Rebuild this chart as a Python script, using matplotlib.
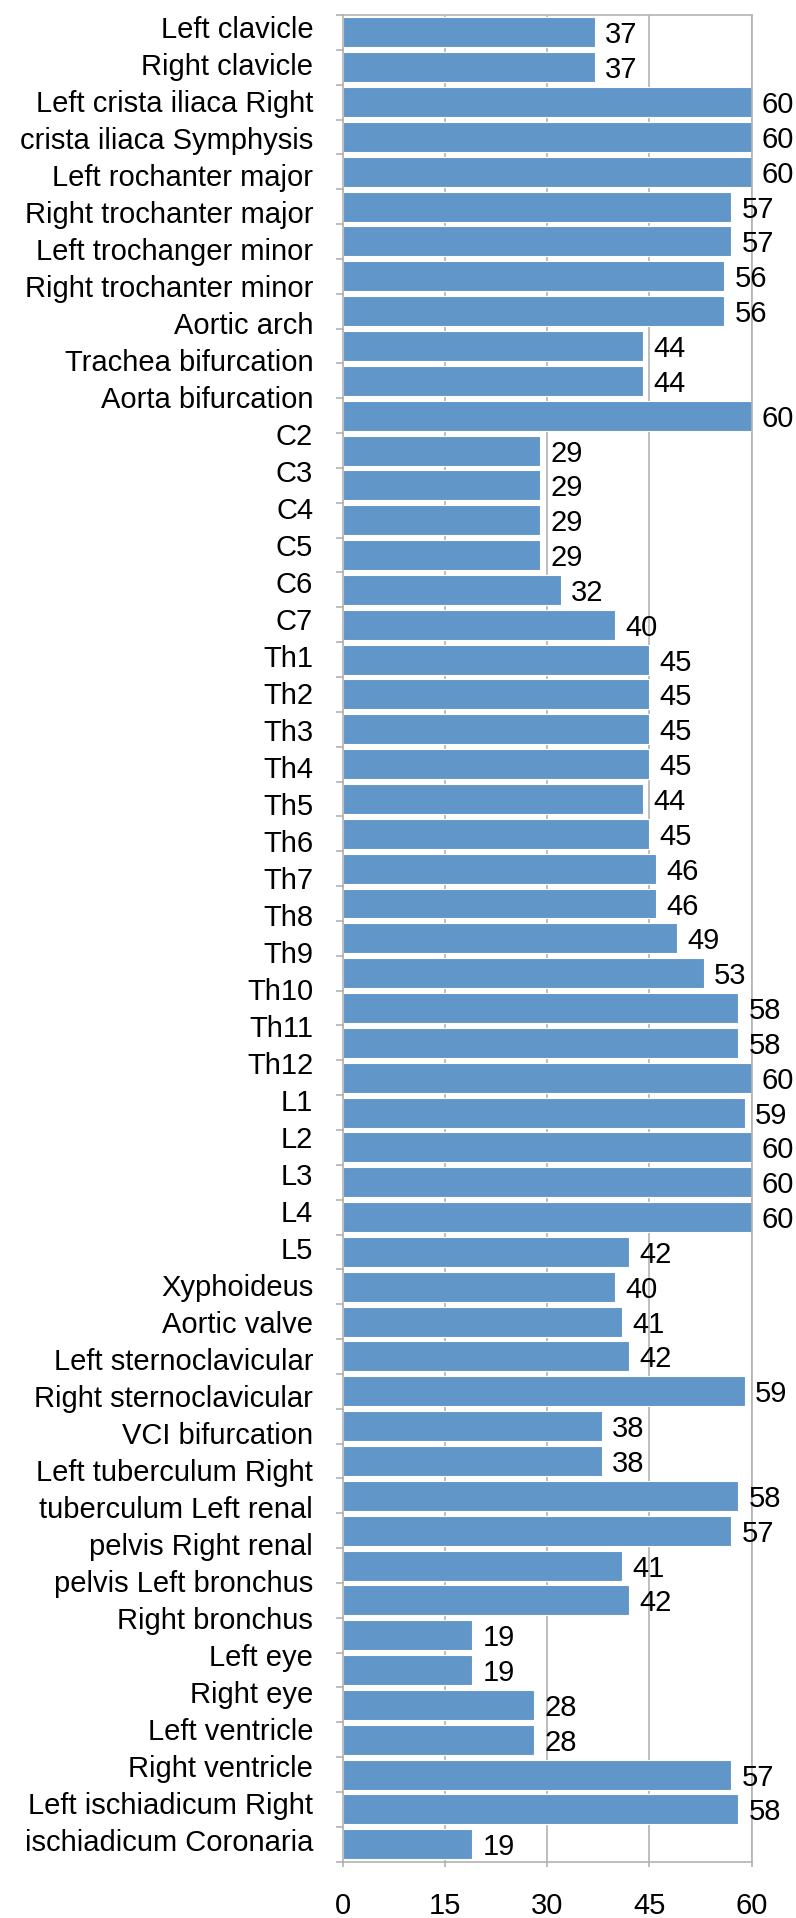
import matplotlib
matplotlib.use("Agg")
import matplotlib.pyplot as plt
import numpy as np

labels = ["Left clavicle", "Right clavicle", "Left crista iliaca Right",
          "crista iliaca Symphysis", "Left rochanter major", "Right trochanter major",
          "Left trochanger minor", "Right trochanter minor", "Aortic arch",
          "Trachea bifurcation", "Aorta bifurcation", "C2", "C3", "C4", "C5", "C6", "C7",
          "Th1", "Th2", "Th3", "Th4", "Th5", "Th6", "Th7", "Th8", "Th9", "Th10", "Th11",
          "Th12", "L1", "L2", "L3", "L4", "L5", "Xyphoideus", "Aortic valve",
          "Left sternoclavicular", "Right sternoclavicular", "VCI bifurcation",
          "Left tuberculum Right", "tuberculum Left renal", "pelvis Right renal",
          "pelvis Left bronchus", "Right bronchus", "Left eye", "Right eye",
          "Left ventricle", "Right ventricle", "Left ischiadicum Right",
          "ischiadicum Coronaria"]

values = [37, 37, 60, 60, 60, 57, 57, 56, 56, 44, 44, 60, 29, 29, 29, 29, 32, 40,
          45, 45, 45, 45, 44, 45, 46, 46, 49, 53, 58, 58, 60, 59, 60, 60, 60, 42,
          40, 41, 42, 59, 38, 38, 58, 57, 41, 42, 19, 19, 28, 28, 57, 58, 19]

xticks = [0, 15, 30, 45, 60]

plt.rcParams['font.family'] = ['Liberation Sans', 'DejaVu Sans']

fig = plt.figure(figsize=(7.96, 19.18), dpi=100)
ax = fig.add_axes([0.4309, 0.02935, 0.5132, 0.96283])

n = len(values)
y = np.arange(n)
bar_color = '#6096C8'
grid_color = '#B3B3B3'
fs = 21.0

ax.barh(y, values, height=0.86, color=bar_color, edgecolor='white',
        linewidth=0.8, zorder=2)

for yi, v in zip(y, values):
    ax.annotate(str(v), xy=(v, yi), xytext=(7.5, 0), textcoords='offset points',
                ha='left', va='center_baseline', fontsize=fs, color='black',
                annotation_clip=False, zorder=4)

ax.set_xlim(0, 60)
ax.set_ylim(n - 0.5, -0.5)

ax.set_xticks(xticks)
ax.set_xticklabels([str(t) for t in xticks], fontsize=fs)
ax.tick_params(axis='x', which='major', length=3.6, width=1.2, color=grid_color,
               pad=18.0)

# category labels spread evenly (as in the reference)
lab_pos = np.linspace(-0.156, 51.88, len(labels))
ax.set_yticks(lab_pos)
ax.set_yticklabels(labels, fontsize=fs)
ax.tick_params(axis='y', which='major', length=0, pad=21.5)
ax.set_yticks(np.arange(-0.5, n, 1.0), minor=True)
ax.tick_params(axis='y', which='minor', length=4.8, width=1.2, color=grid_color)

ax.grid(axis='x', color=grid_color, linewidth=1.2, zorder=0)
ax.set_axisbelow(True)
for s in ax.spines.values():
    s.set_color(grid_color)
    s.set_linewidth(1.2)
    s.set_zorder(3)

fig.savefig('out.png', dpi=100)
